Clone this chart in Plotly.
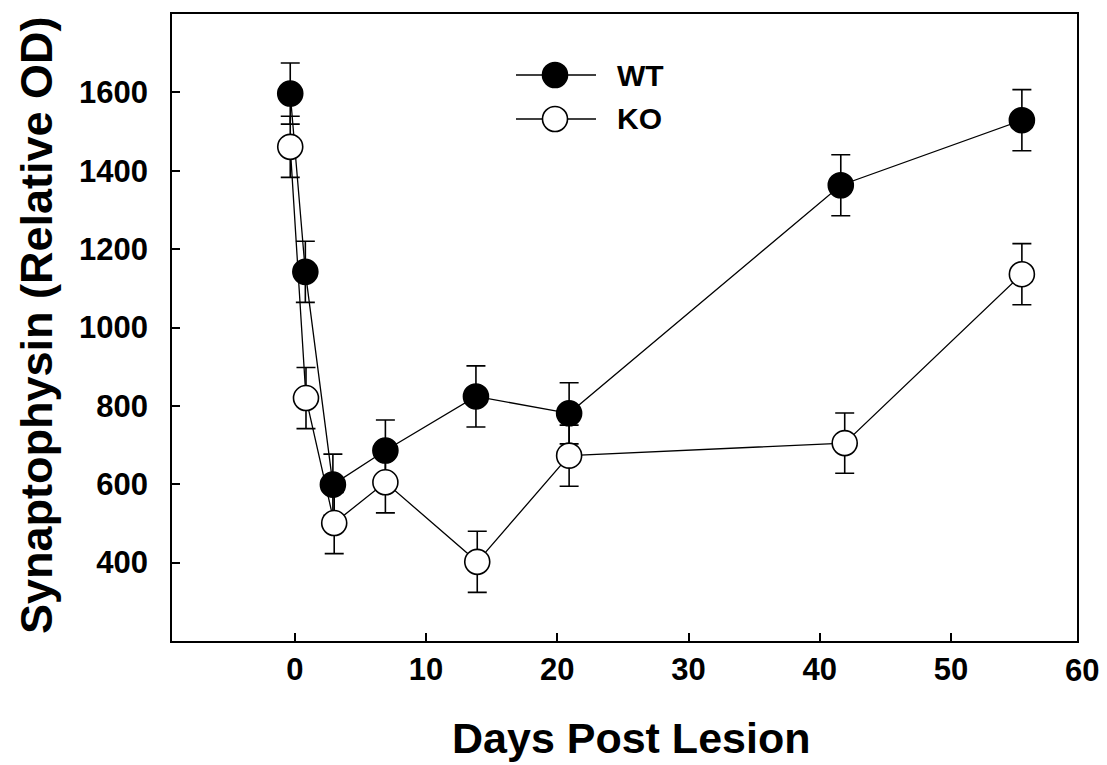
import plotly.graph_objects as go

# ---- data ----
days_wt = [-0.35, 0.8, 2.9, 6.9, 13.8, 20.9, 41.6, 55.4]
wt_values = [1597, 1142, 599, 686, 824, 781, 1363, 1529]
wt_err = [78, 78, 78, 78, 78, 78, 78, 78]

days_ko = [-0.35, 0.85, 3.0, 6.9, 13.9, 20.9, 41.9, 55.4]
ko_values = [1461, 820, 501, 605, 402, 673, 705, 1136]
ko_err = [78, 78, 78, 78, 78, 78, 77, 78]

x_ticks = [0, 10, 20, 30, 40, 50, 60]
y_ticks = [400, 600, 800, 1000, 1200, 1400, 1600]
series_names = ["WT", "KO"]

FONT = "Arial, 'Liberation Sans', Helvetica, sans-serif"
OFF = 8  # default body margin of the html page
PAGE_W, PAGE_H = 1107, 765
W, H = PAGE_W - OFF, PAGE_H - OFF
# plot frame in page pixels: left 172, right 1077, top 14, bottom 641
ML, MT = 172 - OFF, 14 - OFF
MR = W - (1077 - OFF)
MB = H - (641 - OFF)
X_RANGE = [-9.36, 59.6]
Y_RANGE = [200, 1800]

fig = go.Figure()

def add_series(x, y, err, name, fill):
    fig.add_trace(go.Scatter(
        x=x, y=y, name=name, mode="lines+markers",
        line=dict(color="black", width=1.3),
        marker=dict(size=25, color=fill, line=dict(color="black", width=1.6)),
        error_y=dict(type="data", array=err, visible=True, color="black",
                     thickness=1.6, width=9.5),
        showlegend=False, cliponaxis=False,
    ))

add_series(days_wt, wt_values, wt_err, series_names[0], "black")
add_series(days_ko, ko_values, ko_err, series_names[1], "white")

# ---- manual legend (positions given in page pixels) ----
pw = W - ML - MR
ph = H - MT - MB
def px2x(px):
    return (px - OFF - ML) / pw
def py2y(py):
    return (H - MB - (py - OFF)) / ph

shapes = []
annotations = []
for name, fill, py in [(series_names[0], "black", 75), (series_names[1], "white", 119)]:
    shapes.append(dict(type="line", xref="paper", yref="paper",
                       x0=px2x(516), x1=px2x(596), y0=py2y(py), y1=py2y(py),
                       line=dict(color="black", width=1.6)))
    shapes.append(dict(type="circle", xref="paper", yref="paper",
                       xsizemode="pixel", ysizemode="pixel",
                       xanchor=px2x(555), yanchor=py2y(py),
                       x0=-12.5, x1=12.5, y0=-12.5, y1=12.5,
                       fillcolor=fill, line=dict(color="black", width=1.6)))
    annotations.append(dict(text="<b>%s</b>" % name, xref="paper", yref="paper",
                            x=px2x(615), y=py2y(py), xanchor="left", yanchor="middle",
                            showarrow=False,
                            font=dict(family=FONT, size=30, color="black")))

# tick label that lies just outside the visible x range (60)
for t in x_ticks:
    if t > X_RANGE[1]:
        xp = (t - X_RANGE[0]) / (X_RANGE[1] - X_RANGE[0])
        annotations.append(dict(text="<b>%d</b>" % t, xref="paper", yref="paper", x=xp, y=0,
                                yshift=-10, xanchor="center", yanchor="top",
                                showarrow=False,
                                font=dict(family=FONT, size=31, color="black")))

# axis titles
annotations.append(dict(text="<b>Days Post Lesion</b>", xref="paper", yref="paper",
                        x=px2x(631), y=py2y(738), xanchor="center", yanchor="middle",
                        showarrow=False,
                        font=dict(family=FONT, size=43, color="black")))
annotations.append(dict(text="<b>Synaptophysin (Relative OD)</b>", xref="paper", yref="paper",
                        x=px2x(36), y=py2y(325), xanchor="center", yanchor="middle",
                        textangle=-90, showarrow=False,
                        font=dict(family=FONT, size=45, color="black")))

fig.update_layout(
    width=W, height=H,
    margin=dict(l=ML, r=MR, t=MT, b=MB, autoexpand=False),
    paper_bgcolor="white", plot_bgcolor="white",
    shapes=shapes, annotations=annotations,
    showlegend=False,
)
fig.update_xaxes(
    range=X_RANGE, tickvals=x_ticks, ticktext=["<b>%d</b>" % t for t in x_ticks],
    ticks="inside", ticklen=8, tickwidth=1.5, tickcolor="black",
    showline=True, linecolor="black", linewidth=1.8, mirror=True,
    showgrid=False, zeroline=False, ticklabelstandoff=0,
    tickfont=dict(family=FONT, size=31, color="black"),
)
fig.update_yaxes(
    range=Y_RANGE, tickvals=y_ticks, ticktext=["<b>%d</b>" % t for t in y_ticks],
    ticks="inside", ticklen=8, tickwidth=1.5, tickcolor="black",
    showline=True, linecolor="black", linewidth=1.8, mirror=True,
    showgrid=False, zeroline=False, ticklabelstandoff=16,
    tickfont=dict(family=FONT, size=31, color="black"),
)

fig.write_html("out.html")
